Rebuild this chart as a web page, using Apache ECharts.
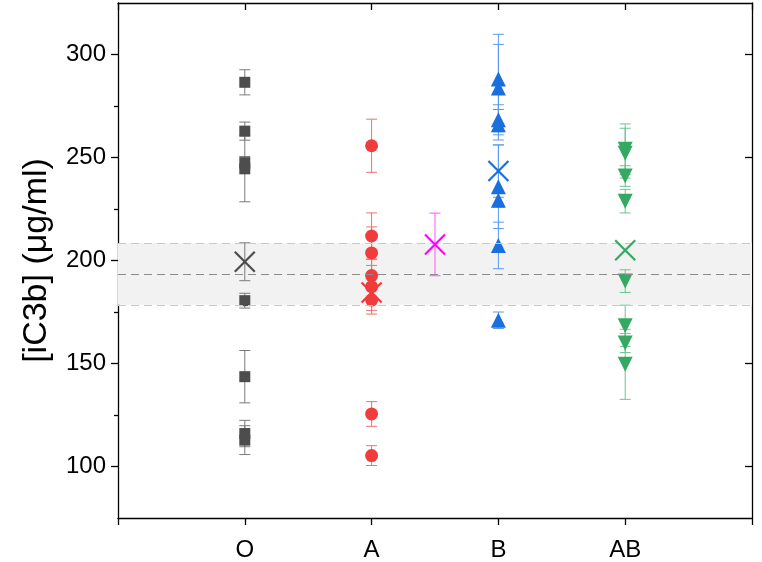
<html>

<head>
  <script src="https://cdn.jsdelivr.net/npm/echarts@6/dist/echarts.min.js"></script>
</head>

<body style="margin:0">
  <div id="main" style="width: 762px;height:562px;"></div>
  <script>
    var categories = ['O', 'A', 'B', 'AB'];
    var yTicks = [100, 150, 200, 250, 300];
    var yMinorTicks = [125, 175, 225, 275];

    // individual donors per blood group (value, +/- error)
    var oValues = [286.5, 262.8, 247.5, 244.5, 180.5, 143.6, 116.0, 112.8];
    var oErrors = [6.1, 4.4, 3.0, 16.0, 3.6, 12.7, 6.4, 7.0];
    var aValues = [255.7, 211.9, 203.7, 192.7, 187.3, 180.8, 125.5, 105.3];
    var aErrors = [12.9, 11.2, 12.6, 4.9, 13.3, 5.0, 6.0, 4.8];
    var bValues = [288.1, 283.7, 268.3, 265.9, 235.8, 229.3, 207.3, 171.0];
    var bErrors = [21.7, 21.2, 7.3, 7.4, 20.3, 3.3, 11.3, 4.0];
    var abValues = [254.0, 252.1, 241.0, 228.8, 190.0, 168.3, 159.9, 149.6];
    var abErrors = [12.3, 12.1, 5.0, 5.7, 5.5, 10.0, 4.6, 17.0];

    // group means (x position, value, error)
    var meanPos = [1, 2, 2.5, 3, 4];
    var meanValues = [199.4, 184.5, 207.8, 243.4, 205.0];
    var meanErrors = [9.2, 0, 15.2, 12.7, 0];

    // reference range
    var refMean = 193.5;
    var refLow = 178.5;
    var refHigh = 208.5;

    var myChart = echarts.init(document.getElementById('main'));

    function errorBars(x, values, errors, color) {
      return {
        type: 'custom',
        silent: true,
        z: 3,
        encode: { x: 0, y: 1 },
        data: values.map(function (v, i) { return [x, v, errors[i]]; }),
        renderItem: function (params, api) {
          var xv = api.value(0), yv = api.value(1), e = api.value(2);
          if (!e) return null;
          var top = api.coord([xv, yv + e]);
          var bot = api.coord([xv, yv - e]);
          var w = 5.5;
          var st = { stroke: color, lineWidth: 1 };
          return {
            type: 'group',
            children: [
              { type: 'line', shape: { x1: top[0], y1: top[1], x2: bot[0], y2: bot[1] }, style: st },
              { type: 'line', shape: { x1: top[0] - w, y1: top[1], x2: top[0] + w, y2: top[1] }, style: st },
              { type: 'line', shape: { x1: bot[0] - w, y1: bot[1], x2: bot[0] + w, y2: bot[1] }, style: st }
            ]
          };
        }
      };
    }

    function points(x, values, symbol, size, color, rotate) {
      return {
        type: 'scatter',
        z: 4,
        symbol: symbol,
        symbolSize: size,
        symbolRotate: rotate || 0,
        itemStyle: { color: color, opacity: 1 },
        data: values.map(function (v) { return [x, v]; })
      };
    }

    var meanColors = ['#4d4d4d', '#f03c3c', '#ff00ff', '#1a6fdf', '#35a862'];
    var meanBarColors = ['#7a7a7a', '#f07070', '#ff55ff', '#5a9aee', '#6cc48f'];

    var seriesList = [];

    // reference band
    seriesList.push({
      type: 'scatter',
      data: [],
      silent: true,
      markArea: {
        silent: true,
        itemStyle: { color: '#f2f2f2' },
        data: [[{ yAxis: refLow }, { yAxis: refHigh }]]
      },
      markLine: {
        silent: true,
        symbol: 'none',
        label: { show: false },
        lineStyle: { type: [8, 5], width: 1.2, color: '#c8c8c8' },
        data: [
          { yAxis: refLow },
          { yAxis: refHigh },
          { yAxis: refMean, lineStyle: { color: '#8c8c8c', type: [8, 5], width: 1.2 } }
        ]
      }
    });

    seriesList.push(errorBars(1, oValues, oErrors, '#7a7a7a'));
    seriesList.push(errorBars(2, aValues, aErrors, '#f07070'));
    seriesList.push(errorBars(3, bValues, bErrors, '#5a9aee'));
    seriesList.push(errorBars(4, abValues, abErrors, '#6cc48f'));

    seriesList.push(points(1, oValues, 'rect', 11, '#4d4d4d'));
    seriesList.push(points(2, aValues, 'circle', 13, '#f03c3c'));
    seriesList.push(points(3, bValues, 'triangle', 15, '#1a6fdf'));
    seriesList.push(points(4, abValues, 'triangle', 15, '#35a862', 180));

    meanPos.forEach(function (p, i) {
      seriesList.push(errorBars(p, [meanValues[i]], [meanErrors[i]], meanBarColors[i]));
    });

    // mean crosses
    seriesList.push({
      type: 'custom',
      z: 5,
      silent: true,
      encode: { x: 0, y: 1 },
      data: meanPos.map(function (p, i) { return [p, meanValues[i], i]; }),
      renderItem: function (params, api) {
        var c = api.coord([api.value(0), api.value(1)]);
        var s = 10;
        var st = { stroke: meanColors[api.value(2)], lineWidth: 2.2 };
        return {
          type: 'group',
          children: [
            { type: 'line', shape: { x1: c[0] - s, y1: c[1] - s, x2: c[0] + s, y2: c[1] + s }, style: st },
            { type: 'line', shape: { x1: c[0] - s, y1: c[1] + s, x2: c[0] + s, y2: c[1] - s }, style: st }
          ]
        };
      }
    });

    var axisLine = { show: true, lineStyle: { color: '#000', width: 1.3 } };

    option = {
      animation: false,
      textStyle: { fontFamily: 'Liberation Sans' },
      grid: {
        left: 118,
        right: 10,
        top: 3,
        bottom: 44
      },
      xAxis: [{
        type: 'value',
        min: 0,
        max: 5,
        interval: 1,
        position: 'bottom',
        axisLine: axisLine,
        axisTick: { length: 7, lineStyle: { color: '#000', width: 1.3 } },
        splitLine: { show: false },
        axisLabel: {
          fontSize: 24,
          color: '#000',
          margin: 20,
          formatter: function (v) {
            return categories[v - 1] || '';
          }
        }
      },
      {
        type: 'value',
        min: 0,
        max: 5,
        interval: 1,
        position: 'top',
        axisLine: axisLine,
        axisTick: { inside: true, length: 7, lineStyle: { color: '#000', width: 1.3 } },
        splitLine: { show: false },
        axisLabel: { show: false }
      }],
      yAxis: [{
        type: 'value',
        min: 75,
        max: 325,
        position: 'left',
        name: '[iC3b] (μg/ml)',
        nameLocation: 'middle',
        nameGap: 64,
        nameTextStyle: { fontSize: 34, color: '#000' },
        axisLine: axisLine,
        axisTick: { length: 7, customValues: yTicks, lineStyle: { color: '#000', width: 1.3 } },
        splitLine: { show: false },
        axisLabel: { fontSize: 24, color: '#000', margin: 12, customValues: yTicks }
      },
      {
        type: 'value',
        min: 75,
        max: 325,
        position: 'left',
        axisLine: { show: false },
        axisTick: { length: 4, customValues: yMinorTicks, lineStyle: { color: '#000', width: 1.3 } },
        splitLine: { show: false },
        axisLabel: { show: false }
      },
      {
        type: 'value',
        min: 75,
        max: 325,
        position: 'right',
        axisLine: axisLine,
        axisTick: { inside: true, length: 7, customValues: yTicks, lineStyle: { color: '#000', width: 1.3 } },
        splitLine: { show: false },
        axisLabel: { show: false }
      }],
      series: seriesList
    };

    myChart.setOption(option);

  </script>
</body>

</html>
